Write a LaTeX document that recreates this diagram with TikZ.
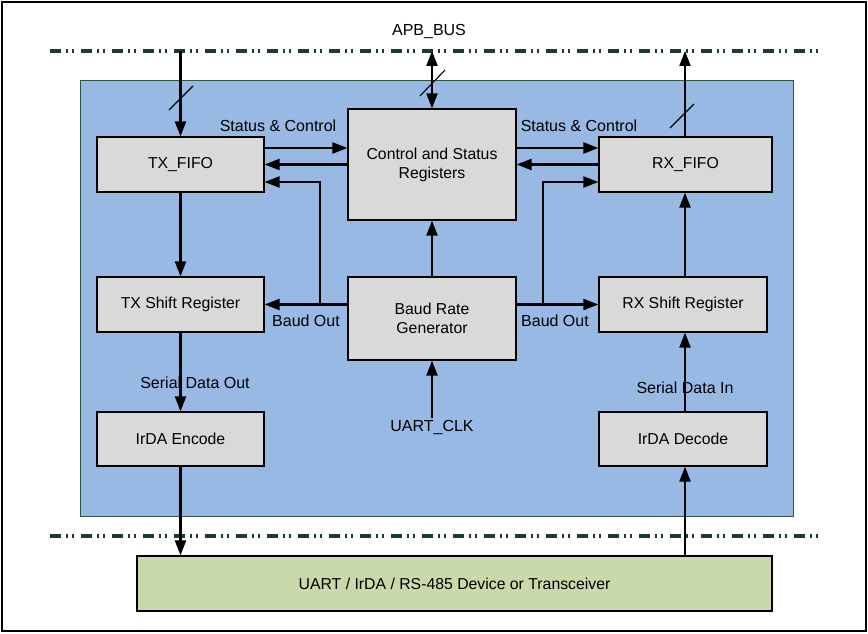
\documentclass[tikz,border=0pt]{standalone}
\usepackage{fontspec}
\setmainfont{Liberation Sans}
\usetikzlibrary{arrows.meta}
\definecolor{bluefill}{RGB}{153,185,229}
\definecolor{boxfill}{RGB}{217,217,217}
\definecolor{greenfill}{RGB}{201,217,169}
\definecolor{busgreen}{RGB}{30,60,45}
\definecolor{frameg}{RGB}{50,85,65}
\begin{document}
\begin{tikzpicture}[x=1pt,y=-1pt,
  box/.style={draw=black,line width=1.2pt,fill=boxfill,align=center,font=\fontsize{15.8}{19}\selectfont,inner sep=0pt},
  arr/.style={line width=2.2pt,-{Triangle[length=15pt,width=11pt]}},
  dbl/.style={line width=2.2pt,{Triangle[length=15pt,width=11pt]}-{Triangle[length=15pt,width=11pt]}},
  bus/.style={line width=3.5pt,busgreen,dash pattern=on 11pt off 5pt on 2pt off 4pt on 2pt off 7pt},
  lbl/.style={font=\fontsize{16}{19}\selectfont,inner sep=0pt},
  slash/.style={line width=1.1pt}]
\useasboundingbox (0,0) rectangle (868,634);
\draw[line width=1.6pt] (2,2) rectangle (866,631);
% blue area
\fill[bluefill,draw=frameg,line width=0.8pt] (80,80) rectangle (793,516);
% buses
\draw[bus] (50,51) -- (822,51);
\draw[bus] (50,536) -- (822,536);
\node[lbl] (apb) at (429,32) {APB\_BUS};
% blocks
\node[box,minimum width=167pt,minimum height=55pt] (txf) at (180.5,164.5) {TX\_FIFO};
\node[box,minimum width=168pt,minimum height=111pt] (csr) at (432,164.5) {Control and Status\\Registers};
\node[box,minimum width=173pt,minimum height=55pt] (rxf) at (685.5,164.5) {RX\_FIFO};
\node[box,minimum width=167pt,minimum height=55pt] (txs) at (180.5,304.5) {TX Shift Register};
\node[box,minimum width=168pt,minimum height=83pt] (brg) at (432,318.5) {Baud Rate\\Generator};
\node[box,minimum width=168pt,minimum height=55pt] (rxs) at (683,304.5) {RX Shift Register};
\node[box,minimum width=167pt,minimum height=54pt] (enc) at (180.5,439) {IrDA Encode};
\node[box,minimum width=168pt,minimum height=54pt] (dec) at (683,439) {IrDA Decode};
\node[box,fill=greenfill,minimum width=635pt,minimum height=55pt] (dev) at (454.5,583.5) {UART / IrDA / RS-485 Device or Transceiver};
% bus coordinates
\coordinate (b1) at (180.5,51);
\coordinate (b2) at (432,51);
\coordinate (b3) at (685,51);
\coordinate (clk) at (432,418);
% bus connections
\draw[arr] (b1) -- (txf.north);
\draw[dbl] (b2) -- (csr.north);
\draw[arr] (rxf.north -| b3) -- (b3);
\draw[slash] (169,110) -- (193,86);
\draw[slash] (420,96) -- (445,70);
\draw[slash] (670,128) -- (694,104);
% status & control
\draw[arr] ([yshift=16.5pt]txf.east) -- ([yshift=16.5pt]csr.west);
\draw[arr] (csr.west |- txf.east) -- (txf.east);
\node[lbl] (sc1) at (278,126) {Status \& Control};
\draw[arr] ([yshift=16.5pt]csr.east) -- ([yshift=16.5pt]rxf.west);
\draw[arr] (rxf.west) -- (csr.east |- rxf.west);
\node[lbl] (sc2) at (579,126) {Status \& Control};
% baud out
\draw[arr] (brg.west |- txs.east) -- (txs.east);
\coordinate (bl) at (320,304.5);
\draw[arr] (bl) -- (320,182) -- ([yshift=-17.5pt]txf.east);
\node[lbl] (bo1) at (306,321) {Baud Out};
\draw[arr] (brg.east |- rxs.west) -- (rxs.west);
\coordinate (br) at (543,304.5);
\draw[arr] (br) -- (543,182) -- ([yshift=-17.5pt]rxf.west);
\node[lbl] (bo2) at (555,321) {Baud Out};
\draw[arr] (brg.north) -- (csr.south);
\draw[arr] (clk) -- (brg.south);
\node[lbl] (uclk) at (432,428) {UART\_CLK};
% TX path
\draw[arr] (txf.south) -- (txs.north);
\draw[arr] (txs.south) -- (enc.north);
\node[lbl] (sdo) at (195,383) {Serial Data Out};
\draw[arr] (enc.south) -- (enc.south |- dev.north);
% RX path
\draw[arr] (dev.north -| b3) -- (dec.south -| b3);
\draw[arr] (dec.north -| b3) -- (rxs.south -| b3);
\node[lbl] (sdi) at (685,388) {Serial Data In};
\draw[arr] (rxs.north -| b3) -- (rxf.south -| b3);
\end{tikzpicture}
\end{document}
